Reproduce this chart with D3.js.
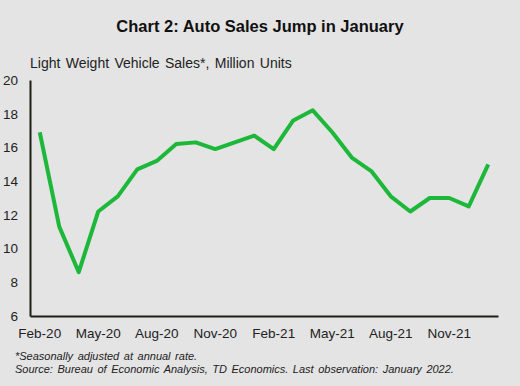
<!DOCTYPE html>
<html>
<head>
<meta charset="utf-8">
<script src="https://cdn.jsdelivr.net/npm/d3@7"></script>
<style>
  body { margin: 0; background: #e4e4e4; }
  svg { display: block; font-family: "Liberation Sans", Arial, sans-serif; }
</style>
</head>
<body>
<script>
// chart data
var months = ["Feb-20","Mar-20","Apr-20","May-20","Jun-20","Jul-20","Aug-20","Sep-20","Oct-20","Nov-20","Dec-20","Jan-21",
              "Feb-21","Mar-21","Apr-21","May-21","Jun-21","Jul-21","Aug-21","Sep-21","Oct-21","Nov-21","Dec-21","Jan-22"];
var sales = [16.9, 11.3, 8.6, 12.2, 13.1, 14.7, 15.2, 16.2, 16.3, 15.9, 16.3, 16.7,
             15.9, 17.6, 18.2, 16.9, 15.4, 14.6, 13.1, 12.2, 13.0, 13.0, 12.5, 15.0];
var xTickLabels = ["Feb-20","May-20","Aug-20","Nov-20","Feb-21","May-21","Aug-21","Nov-21"];
var yTicks = [6, 8, 10, 12, 14, 16, 18, 20];

var svgWidth = 520;
var svgHeight = 386;

var margin = { top: 80, right: 22, bottom: 70, left: 30 };
var chartWidth = svgWidth - margin.left - margin.right;
var chartHeight = svgHeight - margin.top - margin.bottom;

var svg = d3.select("body").append("svg")
    .attr("width", svgWidth)
    .attr("height", svgHeight);

svg.append("rect")
    .attr("width", svgWidth)
    .attr("height", svgHeight)
    .attr("fill", "#e4e4e4");

// title + subtitle
svg.append("text")
    .attr("x", 260)
    .attr("y", 32)
    .attr("text-anchor", "middle")
    .attr("font-size", "16.5px")
    .attr("font-weight", "bold")
    .attr("fill", "#111")
    .text("Chart 2: Auto Sales Jump in January");

svg.append("text")
    .attr("x", 30)
    .attr("y", 68)
    .attr("font-size", "14px")
    .attr("word-spacing", "1.5px")
    .attr("fill", "#222")
    .text("Light Weight Vehicle Sales*, Million Units");

var chartGroup = svg.append("g")
    .attr("transform", `translate(${margin.left}, ${margin.top})`);

// scales
var xBand = d3.scaleBand()
    .domain(months)
    .range([0, chartWidth]);

var yScale = d3.scaleLinear()
    .domain([6, 20])
    .range([chartHeight, 0]);

// y axis
var leftAxis = d3.axisLeft(yScale).tickValues(yTicks).tickSize(0).tickPadding(12);
var yAxis = chartGroup.append("g").call(leftAxis);
yAxis.select(".domain").attr("stroke", "#1e1e14").attr("stroke-width", 2);
yAxis.selectAll("text")
    .attr("font-size", "13.5px")
    .attr("fill", "#222")
    .attr("font-family", "Liberation Sans, Arial, sans-serif");

// x axis
var bottomAxis = d3.axisBottom(xBand).tickValues(xTickLabels).tickSize(0).tickPadding(12);
var xAxis = chartGroup.append("g")
    .attr("transform", `translate(0, ${chartHeight})`)
    .call(bottomAxis);
xAxis.select(".domain").attr("stroke", "#1e1e14").attr("stroke-width", 2);
xAxis.selectAll("text")
    .attr("font-size", "13.5px")
    .attr("fill", "#222")
    .attr("font-family", "Liberation Sans, Arial, sans-serif");

// line
var line = d3.line()
    .x((d, i) => xBand(months[i]) + xBand.bandwidth() / 2)
    .y(d => yScale(d));

chartGroup.append("path")
    .datum(sales)
    .attr("d", line)
    .attr("fill", "none")
    .attr("stroke", "#1db83a")
    .attr("stroke-width", 4)
    .attr("stroke-linejoin", "round");

// footnotes
svg.append("text")
    .attr("x", 15)
    .attr("y", 360)
    .attr("font-size", "11px")
    .attr("font-style", "italic")
    .attr("fill", "#222")
    .attr("word-spacing", "1.5px")
    .text("*Seasonally adjusted at annual rate.");

svg.append("text")
    .attr("x", 15)
    .attr("y", 373)
    .attr("font-size", "11px")
    .attr("font-style", "italic")
    .attr("fill", "#222")
    .attr("word-spacing", "1.5px")
    .text("Source: Bureau of Economic Analysis, TD Economics. Last observation: January 2022.");
</script>
</body>
</html>
